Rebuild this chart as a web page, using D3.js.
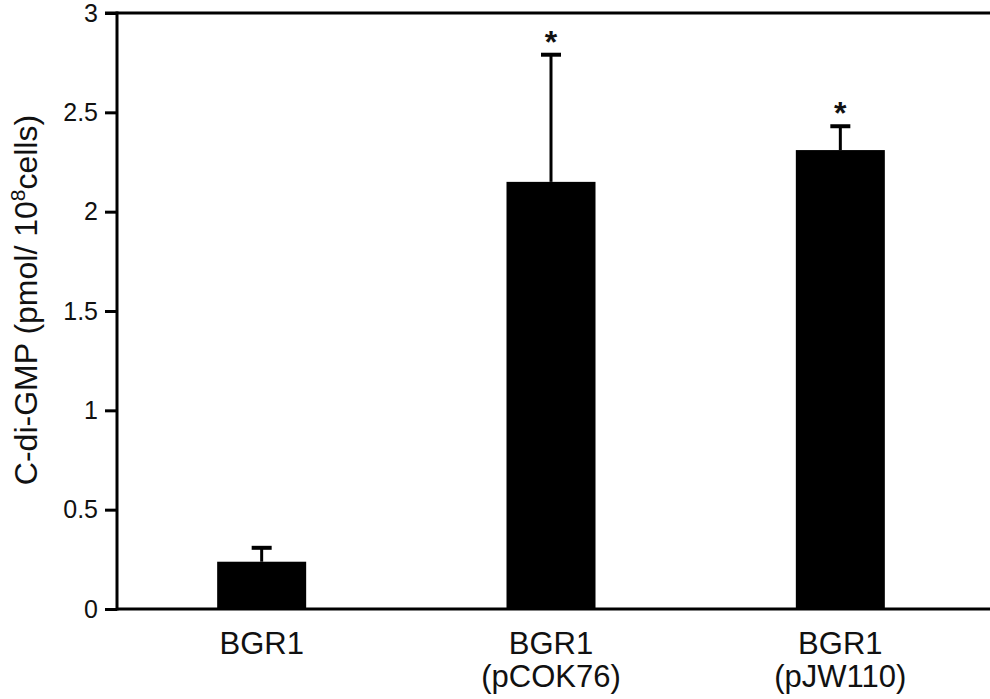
<!DOCTYPE html>
<html lang="en">
<head>
<meta charset="utf-8">
<title>C-di-GMP</title>
<script src="https://d3js.org/d3.v7.min.js"></script>
<style>
  body { margin: 0; background: #fff; }
  text { font-family: Arial, "Liberation Sans", Helvetica, sans-serif; fill: #111; }
</style>
</head>
<body>
<script>
// data
var strains = ["BGR1", "BGR1 (pCOK76)", "BGR1 (pJW110)"];
var labelLines = [["BGR1"], ["BGR1", "(pCOK76)"], ["BGR1", "(pJW110)"]];
var means = [0.238, 2.15, 2.31];
var errors = [0.07, 0.64, 0.12];
var significant = [false, true, true];
var yTicks = [0, 0.5, 1, 1.5, 2, 2.5, 3];

var w = 990, h = 699;
var plotLeft = 117, plotRight = 985, plotTop = 13, plotBottom = 609;
var barWidth = 89, capWidth = 20;

var svg = d3.select("body").append("svg")
    .attr("width", w)
    .attr("height", h);

var x = d3.scalePoint()
    .domain(strains)
    .range([plotLeft, plotRight])
    .padding(0.5);

var y = d3.scaleLinear()
    .domain([0, 3])
    .range([plotBottom, plotTop]);

// bars
svg.append("g")
    .selectAll("rect")
    .data(strains)
    .join("rect")
    .attr("x", d => x(d) - barWidth / 2)
    .attr("width", barWidth)
    .attr("y", (d, i) => y(means[i]))
    .attr("height", (d, i) => y(0) - y(means[i]))
    .attr("fill", "#000");

// error bars (upper only)
var eb = svg.append("g").selectAll("g")
    .data(strains)
    .join("g");
eb.append("line")
    .attr("x1", d => x(d)).attr("x2", d => x(d))
    .attr("y1", (d, i) => y(means[i]))
    .attr("y2", (d, i) => y(means[i] + errors[i]))
    .attr("stroke", "#000").attr("stroke-width", 3);
eb.append("line")
    .attr("x1", d => x(d) - capWidth / 2).attr("x2", d => x(d) + capWidth / 2)
    .attr("y1", (d, i) => y(means[i] + errors[i]))
    .attr("y2", (d, i) => y(means[i] + errors[i]))
    .attr("stroke", "#000").attr("stroke-width", 4);

// asterisks
svg.append("g")
    .selectAll("text")
    .data(strains.filter((d, i) => significant[i]))
    .join("text")
    .attr("x", d => x(d))
    .attr("y", d => { var i = strains.indexOf(d); return y(means[i] + errors[i]) - 2; })
    .attr("text-anchor", "middle")
    .style("font-size", "32px")
    .style("font-weight", "bold")
    .text("*");

// frame lines (top and bottom)
svg.append("line")
    .attr("x1", plotLeft - 12).attr("x2", w)
    .attr("y1", y(3)).attr("y2", y(3))
    .attr("stroke", "#000").attr("stroke-width", 3);
svg.append("line")
    .attr("x1", plotLeft).attr("x2", w)
    .attr("y1", y(0)).attr("y2", y(0))
    .attr("stroke", "#000").attr("stroke-width", 3);

// y axis
var yAxis = svg.append("g")
    .attr("transform", "translate(" + plotLeft + ",0)")
    .call(d3.axisLeft(y).tickValues(yTicks).tickSize(12).tickPadding(7).tickFormat(d3.format("~g")));
yAxis.select(".domain").attr("stroke-width", 3).attr("d", "M0," + (plotTop - 1.5) + "V" + (plotBottom + 1.5));
yAxis.selectAll(".tick line").attr("stroke-width", 3);
yAxis.selectAll(".tick text")
    .style("font-size", "25px")
    .style("font-family", "Arial, 'Liberation Sans', sans-serif")
    .attr("fill", "#111");

// x labels
var xl = svg.append("g")
    .selectAll("text")
    .data(strains)
    .join("text")
    .attr("text-anchor", "middle")
    .style("font-size", "31px");
xl.selectAll("tspan")
    .data((d, i) => labelLines[i].map(t => ({t: t, x: x(d)})))
    .join("tspan")
    .attr("x", d => d.x)
    .attr("y", (d, j) => 654 + j * 33)
    .text(d => d.t);

// y title
var title = svg.append("text")
    .attr("transform", "translate(37," + ((plotTop + plotBottom) / 2 - 11) + ") rotate(-90)")
    .attr("text-anchor", "middle")
    .style("font-size", "32px");
title.append("tspan").text("C-di-GMP (pmol/ 10");
title.append("tspan").attr("dy", -12).style("font-size", "21px").text("8");
title.append("tspan").attr("dy", 12).text("cells)");
</script>
</body>
</html>
